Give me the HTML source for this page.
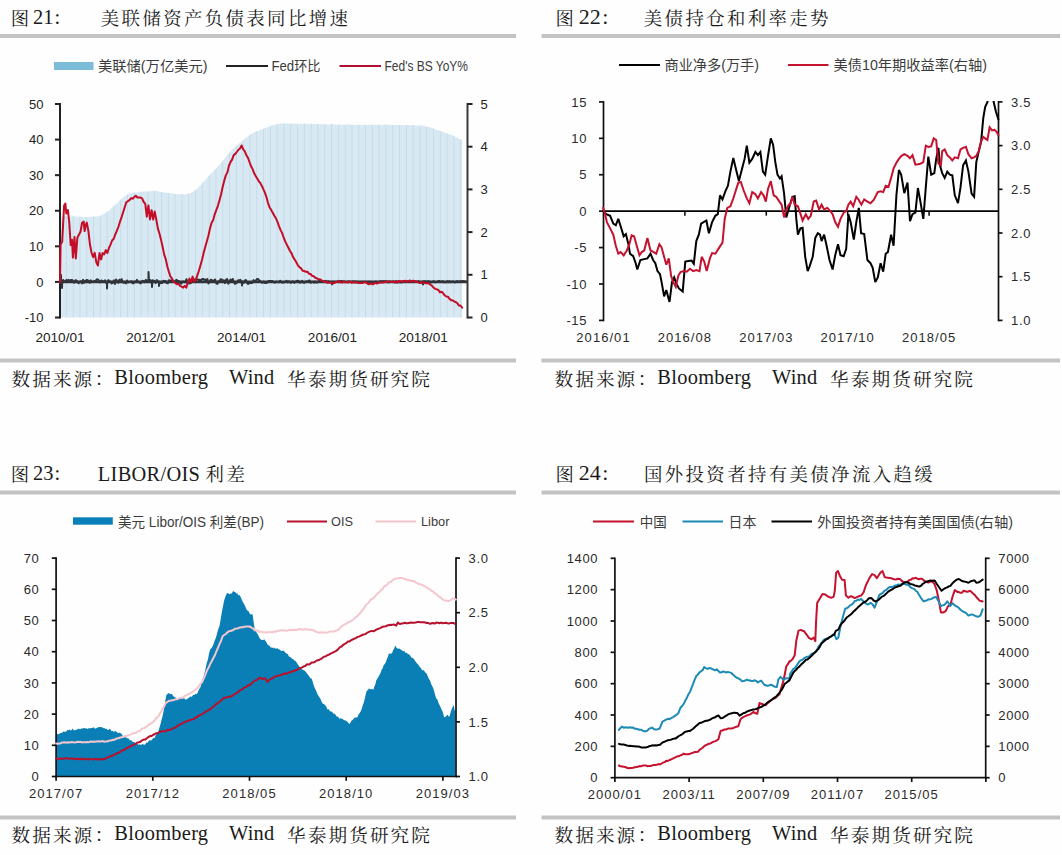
<!DOCTYPE html>
<html lang="zh-CN"><head><meta charset="utf-8"><title>图21-24</title>
<style>
html,body{margin:0;padding:0;background:#fefefe;}
body{width:1062px;height:855px;overflow:hidden;}
svg{display:block;}
.kai{font-family:"Noto Serif CJK SC","Liberation Serif",serif;font-size:18.4px;letter-spacing:2.4px;fill:#1a1a1a;font-weight:400;}
.kais{font-family:"Noto Serif CJK SC","Liberation Serif",serif;font-size:18.6px;letter-spacing:2.1px;fill:#1a1a1a;font-weight:400;}
.lat{font-family:"Liberation Serif","Noto Serif CJK SC",serif;font-size:20.4px;fill:#1a1a1a;letter-spacing:0.3px;}
.lg{font-family:"Liberation Sans","Noto Sans CJK SC",sans-serif;font-size:14px;fill:#3c3c3c;}
.tk{font-family:"Liberation Sans","Noto Sans CJK SC",sans-serif;font-size:13px;fill:#222;}
.tx{font-family:"Liberation Sans","Noto Sans CJK SC",sans-serif;font-size:13.6px;fill:#222;}
.tf{font-family:"Liberation Sans","Noto Sans CJK SC",sans-serif;font-size:13px;fill:#2a2a2a;letter-spacing:0.6px;}
.tfx{font-family:"Liberation Sans","Noto Sans CJK SC",sans-serif;font-size:13px;fill:#2a2a2a;letter-spacing:1.05px;}
.ax2{stroke:#111;stroke-width:1.7;fill:none;}
.ax{stroke:#222;stroke-width:2;fill:none;}
.ln{fill:none;stroke-width:2;stroke-linejoin:round;stroke-linecap:round;}
</style></head><body>
<svg width="1062" height="855" viewBox="0 0 1062 855">
<rect width="1062" height="855" fill="#fefefe"/>
<rect x="0" y="34" width="516" height="4" fill="#c3c3c3"/>
<rect x="541.5" y="34" width="518.5" height="4" fill="#c3c3c3"/>
<rect x="0" y="358.5" width="516" height="4" fill="#c3c3c3"/>
<rect x="541.5" y="358.5" width="518.5" height="4" fill="#c3c3c3"/>
<rect x="0" y="490.5" width="516" height="4" fill="#c3c3c3"/>
<rect x="541.5" y="490.5" width="518.5" height="4" fill="#c3c3c3"/>
<rect x="0" y="815.5" width="516" height="4" fill="#c3c3c3"/>
<rect x="541.5" y="815.5" width="518.5" height="4" fill="#c3c3c3"/>
<text y="25"><tspan x="10.7" class="kai">图</tspan><tspan x="27.9" dy="-1" class="lat" style="letter-spacing:0"> 21</tspan><tspan x="54.4" class="lat">:</tspan><tspan x="93.7" dy="1" class="kai"> 美联储资产负债表同比增速</tspan></text>
<text y="25"><tspan x="555.4" class="kai">图</tspan><tspan x="573.2" dy="-1" class="lat" style="font-size:22px;letter-spacing:0"> 22</tspan><tspan x="602.2" class="lat" style="font-size:22px">:</tspan><tspan x="636.7" dy="1" class="kai"> 美债持仓和利率走势</tspan></text>
<text y="481"><tspan x="10.7" class="kai">图</tspan><tspan x="27.9" dy="-1" class="lat" style="letter-spacing:0"> 23</tspan><tspan x="54.4" class="lat">:</tspan><tspan x="92.4" dy="1" class="lat"> LIBOR/OIS</tspan><tspan x="198.5" class="kai"> 利差</tspan></text>
<text y="481"><tspan x="555.4" class="kai">图</tspan><tspan x="573.2" dy="-1" class="lat" style="font-size:22px;letter-spacing:0"> 24</tspan><tspan x="602.2" class="lat" style="font-size:22px">:</tspan><tspan x="636.9" dy="1" class="kai"> 国外投资者持有美债净流入趋缓</tspan></text>
<text y="385.5"><tspan x="11.5" class="kais">数据来源</tspan><tspan x="96" dy="-0.5" class="kais">:</tspan><tspan x="108.9" dy="-1.1" class="lat"> Bloomberg</tspan><tspan x="223.9" class="lat"> Wind</tspan><tspan x="280.25" dy="1.6" class="kais"> 华泰期货研究院</tspan></text>
<text y="385.5"><tspan x="554.5" class="kais">数据来源</tspan><tspan x="639" dy="-0.5" class="kais">:</tspan><tspan x="651.9" dy="-1.1" class="lat"> Bloomberg</tspan><tspan x="766.9" class="lat"> Wind</tspan><tspan x="823.25" dy="1.6" class="kais"> 华泰期货研究院</tspan></text>
<text y="841.5"><tspan x="11.5" class="kais">数据来源</tspan><tspan x="96" dy="-0.5" class="kais">:</tspan><tspan x="108.9" dy="-1.1" class="lat"> Bloomberg</tspan><tspan x="223.9" class="lat"> Wind</tspan><tspan x="280.25" dy="1.6" class="kais"> 华泰期货研究院</tspan></text>
<text y="841.5"><tspan x="554.5" class="kais">数据来源</tspan><tspan x="639" dy="-0.5" class="kais">:</tspan><tspan x="651.9" dy="-1.1" class="lat"> Bloomberg</tspan><tspan x="766.9" class="lat"> Wind</tspan><tspan x="823.25" dy="1.6" class="kais"> 华泰期货研究院</tspan></text>
<g id="c1">
<defs><pattern id="bars" x="60" y="0" width="6.8" height="10" patternUnits="userSpaceOnUse"><rect width="6.8" height="10" fill="#d8e9f3"/><rect x="5.9" width="0.9" height="10" fill="#c4dbe9"/></pattern></defs>
<path d="M60.9 216.3 L63.3 216.4 L65.6 216.3 L68.0 216.5 L70.3 216.5 L72.6 216.2 L74.7 216.2 L76.8 216.8 L78.9 216.6 L81.1 216.7 L83.2 217.2 L85.3 217.0 L87.4 217.1 L89.5 216.8 L91.6 216.8 L93.7 216.4 L95.8 216.6 L97.9 216.4 L100.0 215.7 L102.1 215.0 L104.2 214.0 L106.3 212.3 L108.4 211.2 L110.5 209.3 L112.6 207.2 L114.7 205.0 L116.8 203.4 L118.9 201.0 L121.1 199.1 L123.2 197.4 L125.3 195.8 L127.4 194.6 L129.5 193.4 L131.8 193.1 L134.2 192.5 L136.6 192.6 L138.9 192.3 L141.3 191.6 L143.7 191.4 L146.1 191.2 L148.4 191.4 L150.5 190.9 L152.6 190.9 L154.7 190.7 L156.8 191.1 L158.9 191.5 L161.1 191.9 L163.4 192.4 L165.8 192.6 L168.2 193.1 L170.5 193.2 L172.9 193.6 L175.3 193.9 L177.6 194.3 L180.0 194.3 L182.1 194.1 L184.2 194.5 L186.3 194.3 L188.4 193.8 L190.5 192.8 L192.6 191.9 L194.7 190.3 L196.8 189.1 L198.9 187.0 L201.1 184.5 L203.2 181.9 L205.3 179.9 L207.4 177.7 L209.5 175.0 L211.6 173.3 L213.7 171.0 L215.8 168.7 L217.9 166.5 L220.0 164.3 L222.1 161.8 L224.2 158.7 L226.3 156.4 L228.4 153.4 L230.5 151.4 L232.6 148.9 L234.7 147.1 L236.8 145.2 L238.9 143.2 L241.1 141.9 L243.2 139.9 L245.3 138.2 L247.4 136.9 L249.5 135.1 L251.6 133.8 L253.7 132.7 L255.8 131.6 L259.6 130.4 L260.0 129.8 L262.1 129.6 L264.2 128.3 L266.3 127.8 L268.4 126.9 L270.5 125.8 L272.6 125.2 L274.7 124.7 L276.8 124.2 L278.9 123.8 L281.1 123.5 L283.2 123.5 L285.3 123.6 L287.4 123.4 L289.5 123.4 L291.6 123.7 L293.7 123.5 L295.8 123.5 L297.9 124.0 L300.0 123.8 L302.1 123.8 L304.2 123.5 L306.3 123.8 L308.4 124.0 L310.5 123.7 L312.6 124.1 L314.7 124.1 L316.8 123.8 L318.9 124.2 L321.1 124.1 L323.2 124.3 L325.3 124.2 L327.4 124.4 L329.5 124.5 L331.6 124.1 L333.7 124.2 L335.8 124.6 L337.9 124.8 L340.0 124.4 L342.1 124.6 L344.2 124.7 L346.3 124.6 L348.4 124.6 L350.5 124.6 L352.6 124.7 L354.7 124.9 L356.8 124.7 L358.9 124.8 L361.1 125.0 L363.2 124.6 L365.3 124.9 L367.4 125.0 L369.5 124.7 L371.6 124.7 L373.7 125.0 L375.8 124.7 L377.9 124.7 L380.0 124.8 L382.1 125.0 L384.2 124.6 L386.3 124.7 L388.4 124.8 L390.5 125.1 L392.6 124.9 L394.7 125.2 L396.8 124.8 L398.9 124.9 L401.1 125.1 L403.2 125.3 L405.3 125.0 L407.4 124.9 L409.5 124.9 L411.6 125.2 L413.7 125.1 L415.8 125.6 L417.9 125.7 L420.0 125.4 L422.1 125.6 L424.2 126.1 L426.3 126.4 L428.4 127.0 L430.5 127.4 L432.6 128.0 L434.7 128.9 L436.8 130.0 L438.9 130.5 L441.1 131.3 L443.2 132.1 L445.3 132.8 L447.4 133.5 L449.5 134.6 L451.6 135.0 L453.7 135.7 L455.8 137.2 L457.9 138.1 L460.0 139.2 L462.1 140.0 L462.1 317.5 L60.9 317.5 Z" fill="url(#bars)"/>
<rect x="54" y="62" width="39.5" height="8" fill="#7bbcd8"/>
<text x="98" y="71" class="lg" textLength="109.5" lengthAdjust="spacingAndGlyphs">美联储(万亿美元)</text>
<line x1="226" y1="66" x2="268" y2="66" stroke="#222" stroke-width="2"/>
<text x="271.5" y="71" class="lg" textLength="49" lengthAdjust="spacingAndGlyphs">Fed环比</text>
<line x1="339.5" y1="66" x2="381" y2="66" stroke="#b01030" stroke-width="2.1"/>
<text x="384.5" y="70.8" class="lg" style="font-size:14px" textLength="83.5" lengthAdjust="spacingAndGlyphs">Fed's BS YoY%</text>
<line x1="60" y1="103" x2="60" y2="318.5" class="ax"/>
<line x1="55" y1="104" x2="60" y2="104" class="ax"/>
<text x="43.5" y="108.6" class="tk" text-anchor="end">50</text>
<line x1="55" y1="139.583" x2="60" y2="139.583" class="ax"/>
<text x="43.5" y="144.183" class="tk" text-anchor="end">40</text>
<line x1="55" y1="175.167" x2="60" y2="175.167" class="ax"/>
<text x="43.5" y="179.767" class="tk" text-anchor="end">30</text>
<line x1="55" y1="210.75" x2="60" y2="210.75" class="ax"/>
<text x="43.5" y="215.35" class="tk" text-anchor="end">20</text>
<line x1="55" y1="246.333" x2="60" y2="246.333" class="ax"/>
<text x="43.5" y="250.933" class="tk" text-anchor="end">10</text>
<line x1="55" y1="281.917" x2="60" y2="281.917" class="ax"/>
<text x="43.5" y="286.517" class="tk" text-anchor="end">0</text>
<line x1="55" y1="317.5" x2="60" y2="317.5" class="ax"/>
<text x="43.5" y="322.1" class="tk" text-anchor="end">-10</text>
<line x1="467.5" y1="103" x2="467.5" y2="318.5" class="ax" style="stroke:#3a3a3a"/>
<line x1="467.5" y1="104" x2="472.5" y2="104" class="ax"/>
<text x="480.5" y="108.6" class="tk">5</text>
<line x1="467.5" y1="146.7" x2="472.5" y2="146.7" class="ax"/>
<text x="480.5" y="151.3" class="tk">4</text>
<line x1="467.5" y1="189.4" x2="472.5" y2="189.4" class="ax"/>
<text x="480.5" y="194" class="tk">3</text>
<line x1="467.5" y1="232.1" x2="472.5" y2="232.1" class="ax"/>
<text x="480.5" y="236.7" class="tk">2</text>
<line x1="467.5" y1="274.8" x2="472.5" y2="274.8" class="ax"/>
<text x="480.5" y="279.4" class="tk">1</text>
<line x1="467.5" y1="317.5" x2="472.5" y2="317.5" class="ax"/>
<text x="480.5" y="322.1" class="tk">0</text>
<text x="60" y="341.5" class="tx" text-anchor="middle">2010/01</text>
<text x="150.8" y="341.5" class="tx" text-anchor="middle">2012/01</text>
<text x="241.6" y="341.5" class="tx" text-anchor="middle">2014/01</text>
<text x="332.4" y="341.5" class="tx" text-anchor="middle">2016/01</text>
<text x="423.2" y="341.5" class="tx" text-anchor="middle">2018/01</text>
<path d="M60.0 280.9 L61.0 281.9 L61.0 274.9 L61.1 280.3 L61.5 281.9 L62.0 281.9 L62.0 287.9 L62.2 282.1 L62.5 281.9 L63.3 280.0 L64.4 281.7 L65.5 281.1 L66.6 279.9 L67.7 281.6 L68.8 279.8 L69.9 281.3 L71.0 280.0 L72.1 280.0 L73.2 281.3 L74.3 282.8 L75.4 280.2 L76.5 280.5 L77.6 282.0 L78.7 283.2 L79.8 281.9 L80.9 281.2 L82.0 283.4 L83.1 279.9 L84.2 282.9 L85.3 280.8 L86.4 280.2 L87.5 280.1 L88.6 280.9 L89.7 282.8 L90.8 280.4 L91.9 281.9 L93.0 282.1 L94.1 281.1 L95.2 281.7 L96.3 279.9 L97.4 279.2 L98.5 280.0 L99.6 282.4 L100.7 281.1 L101.8 280.5 L102.9 281.9 L104.0 281.2 L105.1 280.4 L106.2 283.0 L107.0 281.9 L107.0 288.4 L107.3 282.5 L107.5 281.9 L108.4 280.1 L109.5 281.8 L110.6 281.6 L111.7 283.4 L112.8 282.6 L113.9 280.4 L115.0 283.9 L116.1 279.5 L117.2 281.0 L118.3 282.8 L119.4 279.7 L120.5 281.4 L121.6 279.1 L122.7 282.3 L123.8 282.8 L124.9 281.8 L126.0 283.4 L127.1 280.5 L128.2 282.4 L129.3 281.9 L130.4 281.9 L131.5 281.2 L132.6 283.2 L133.7 283.2 L134.8 281.5 L135.9 282.2 L137.0 279.9 L138.1 282.3 L139.2 282.1 L140.3 283.4 L141.4 282.8 L142.5 280.8 L143.6 281.1 L144.7 282.2 L145.8 279.8 L146.9 281.4 L148.0 280.3 L148.5 281.9 L148.5 271.9 L149.0 281.9 L149.1 280.1 L150.2 279.9 L151.3 282.6 L152.0 281.9 L152.0 286.9 L152.4 280.2 L152.5 281.9 L153.5 280.6 L154.6 281.2 L155.7 283.0 L156.8 280.0 L157.9 281.4 L159.0 281.8 L159.0 281.9 L159.0 285.9 L159.5 281.9 L160.1 283.0 L161.2 282.8 L162.3 282.9 L163.4 280.7 L164.5 281.3 L165.6 281.0 L166.7 283.0 L167.8 283.3 L168.9 280.3 L170.0 280.4 L171.1 280.6 L172.2 280.6 L173.3 281.5 L174.4 281.9 L175.5 280.7 L176.6 279.7 L177.7 281.3 L178.8 281.1 L179.9 281.8 L181.0 283.8 L182.1 282.4 L183.2 281.5 L184.3 282.0 L185.4 282.3 L186.5 279.2 L187.6 283.5 L188.7 282.9 L189.8 283.4 L190.9 283.0 L192.0 280.9 L193.1 280.9 L194.2 279.4 L195.3 282.1 L196.4 279.2 L197.5 279.2 L198.6 280.0 L199.7 279.7 L200.8 280.6 L201.9 279.2 L203.0 278.9 L204.1 279.7 L205.2 279.4 L206.3 280.8 L207.4 279.0 L208.5 283.4 L209.6 282.0 L210.7 279.7 L211.8 280.2 L212.9 280.7 L214.0 280.8 L215.1 279.5 L216.2 283.2 L217.3 284.0 L218.4 281.3 L219.5 281.4 L220.6 279.3 L221.7 279.4 L222.8 280.6 L223.9 280.3 L225.0 283.1 L226.1 279.7 L227.2 279.0 L228.3 283.8 L229.4 281.6 L230.5 279.6 L231.6 281.7 L232.7 279.0 L233.8 281.6 L234.9 283.9 L236.0 283.3 L237.1 282.5 L238.2 280.2 L239.3 280.8 L240.4 279.8 L241.5 282.8 L242.0 281.9 L242.0 285.4 L242.5 281.9 L242.6 281.6 L243.7 282.9 L244.8 280.6 L245.9 280.0 L247.0 283.0 L248.1 283.9 L249.2 283.2 L250.3 283.0 L251.4 283.1 L252.5 282.7 L253.6 280.1 L254.7 281.5 L255.8 280.7 L256.9 279.0 L258.0 279.0 L259.1 280.3 L260.2 281.1 L261.3 282.1 L262.4 282.8 L263.5 281.6 L264.6 282.7 L265.7 282.9 L266.8 282.8 L267.9 281.4 L269.0 281.0 L270.1 281.0 L271.2 281.0 L272.3 281.0 L273.4 282.0 L274.5 282.6 L275.6 282.5 L276.7 281.6 L277.8 282.1 L278.9 282.4 L280.0 280.7 L281.1 282.1 L282.2 282.7 L283.3 282.4 L284.4 282.3 L285.5 281.6 L286.6 280.9 L287.7 282.4 L288.8 281.3 L289.9 282.4 L291.0 282.8 L292.1 281.4 L293.2 281.5 L294.3 282.8 L295.4 282.2 L296.5 280.9 L297.6 280.8 L298.7 280.9 L299.8 282.7 L300.9 282.4 L302.0 280.8 L303.1 282.5 L304.2 282.8 L305.3 282.1 L306.4 281.3 L307.5 281.8 L308.6 280.8 L309.7 280.5 L310.8 282.8 L311.9 282.0 L313.0 281.8 L314.1 282.7 L315.2 281.5 L316.3 282.6 L317.4 282.5 L318.5 281.0 L319.6 281.1 L320.7 281.2 L321.8 281.1 L322.9 281.9 L324.0 281.1 L325.1 281.5 L326.2 280.8 L327.3 282.7 L328.4 281.3 L329.5 281.6 L330.6 281.9 L331.7 282.4 L332.0 281.9 L332.0 284.4 L332.5 281.9 L332.8 281.6 L333.9 282.4 L335.0 281.8 L336.1 281.8 L337.2 281.8 L338.3 281.0 L339.4 281.7 L340.5 281.3 L341.6 281.0 L342.7 282.2 L343.8 281.3 L344.9 281.7 L346.0 282.1 L347.1 281.9 L348.2 281.5 L349.3 281.8 L350.4 281.8 L351.5 282.2 L352.6 281.2 L353.7 281.9 L354.8 281.4 L355.9 281.4 L357.0 282.2 L358.1 281.8 L359.2 281.9 L360.3 282.2 L361.4 282.4 L362.5 281.7 L363.6 281.9 L364.7 281.8 L365.8 281.8 L366.9 282.1 L368.0 281.7 L369.1 281.8 L370.2 281.7 L371.3 282.4 L372.4 282.1 L373.5 282.3 L374.6 282.4 L375.7 281.4 L376.8 281.9 L377.9 282.4 L379.0 282.3 L380.1 281.2 L381.2 281.2 L382.3 281.7 L383.4 281.1 L384.5 281.4 L385.6 281.1 L386.7 282.0 L387.8 282.2 L388.9 282.4 L390.0 281.2 L391.1 282.1 L392.2 282.0 L393.3 281.2 L394.4 282.4 L395.5 282.5 L396.6 281.3 L397.7 282.5 L398.8 281.6 L399.9 281.7 L401.0 282.5 L402.1 282.3 L403.2 281.2 L404.3 281.7 L405.4 281.8 L406.5 281.5 L407.6 281.3 L408.7 281.5 L409.8 282.1 L410.9 281.0 L412.0 281.8 L413.1 281.7 L414.2 281.0 L415.3 281.5 L416.4 282.0 L417.5 281.8 L418.6 281.1 L419.7 282.5 L420.8 282.2 L421.9 282.5 L423.0 281.9 L423.0 284.4 L423.0 281.2 L423.5 281.9 L424.1 281.4 L425.2 281.1 L426.3 282.2 L427.4 281.4 L428.5 281.2 L429.6 281.6 L430.7 282.4 L431.8 282.3 L432.9 281.4 L434.0 281.2 L435.1 282.4 L436.2 281.9 L437.3 282.1 L438.4 281.1 L439.5 281.1 L440.6 282.1 L441.7 281.7 L442.8 281.1 L443.9 282.4 L445.0 282.0 L446.1 282.2 L447.2 281.1 L448.3 282.3 L449.4 281.1 L450.5 282.3 L451.6 281.7 L452.7 281.5 L453.8 281.8 L454.9 282.4 L456.0 281.4 L457.1 281.2 L458.2 281.8 L459.3 281.4 L460.4 281.2 L461.5 281.2 L462.6 281.1 L463.7 281.3 L464.8 281.5 L465.9 281.5" class="ln" stroke="#30343a" stroke-width="2.4"/>
<line x1="60" y1="281.9" x2="467" y2="281.9" stroke="#30343a" stroke-width="2.6"/>
<path d="M60.0 282.4 L60.6 244.7 L62.2 241.6 L64.1 205.6 L65.4 203.6 L66.3 213.5 L67.9 210.1 L69.2 222.0 L70.7 245.1 L72.0 239.8 L72.9 257.6 L74.5 237.1 L75.8 258.4 L77.4 237.4 L78.9 234.8 L80.5 231.7 L82.1 222.7 L83.7 221.5 L84.6 231.1 L85.9 224.5 L86.8 222.6 L88.4 230.9 L90.0 244.8 L91.6 253.0 L93.2 257.1 L94.7 252.9 L96.3 262.2 L97.9 265.5 L99.5 253.1 L101.1 259.4 L102.6 253.1 L104.2 254.4 L105.8 250.1 L107.4 253.0 L108.9 248.2 L110.5 244.6 L112.1 240.5 L113.7 238.8 L115.3 234.3 L116.8 230.9 L118.4 226.8 L120.0 221.7 L121.6 217.1 L123.2 212.0 L124.7 207.2 L126.3 202.3 L127.9 201.2 L129.5 200.2 L131.1 198.2 L132.6 198.8 L134.2 197.0 L135.8 195.8 L137.4 197.5 L138.9 197.4 L140.5 197.6 L142.1 198.4 L143.7 202.0 L145.3 203.9 L146.8 216.7 L148.4 205.4 L150.0 219.4 L151.6 210.2 L153.2 219.6 L154.7 211.6 L156.3 219.5 L157.9 228.6 L159.5 233.8 L161.1 240.1 L162.6 246.7 L164.2 254.6 L165.8 259.4 L167.4 266.8 L168.9 271.9 L170.5 276.7 L172.1 278.6 L173.7 281.8 L175.3 282.9 L176.8 284.2 L178.4 283.7 L180.0 285.8 L181.6 286.6 L183.2 287.6 L184.7 285.9 L186.3 287.7 L187.9 282.1 L189.5 278.6 L191.1 282.3 L192.6 276.6 L194.2 281.8 L195.8 279.8 L197.4 275.1 L198.9 270.7 L200.5 265.2 L202.1 259.4 L203.7 252.8 L205.3 246.7 L206.8 241.4 L208.4 235.7 L210.0 228.5 L211.6 222.8 L213.2 219.9 L214.7 214.3 L216.3 210.1 L217.9 205.8 L219.5 200.2 L221.1 194.3 L222.6 187.3 L224.2 180.9 L225.8 175.4 L227.4 172.4 L228.9 165.9 L230.5 162.1 L232.1 159.6 L233.7 155.1 L235.3 153.9 L236.8 152.0 L238.4 149.7 L240.0 148.5 L241.6 145.5 L243.2 149.3 L244.7 151.1 L246.3 154.9 L247.9 157.7 L249.5 162.0 L251.1 166.3 L252.6 169.1 L254.2 173.3 L255.8 176.2 L257.4 178.7 L258.9 181.5 L260.0 182.6 L261.6 185.4 L263.2 188.8 L264.7 192.2 L266.3 196.6 L267.9 202.6 L269.5 207.2 L271.1 209.7 L272.6 212.6 L274.2 215.5 L275.8 218.1 L277.4 221.6 L278.9 225.8 L280.5 229.9 L282.1 232.9 L283.7 237.7 L285.3 241.6 L286.8 244.6 L288.4 247.7 L290.0 251.0 L291.6 253.4 L293.2 257.3 L294.7 259.6 L296.3 262.3 L297.9 265.3 L299.5 267.2 L301.1 268.4 L302.6 270.7 L304.2 271.0 L305.8 271.8 L307.4 271.7 L308.9 273.7 L310.5 274.0 L312.1 275.8 L313.7 276.3 L315.3 277.8 L316.8 278.3 L318.4 279.4 L320.0 279.3 L321.6 280.4 L323.2 281.2 L324.7 281.9 L326.3 281.5 L327.9 282.6 L329.5 282.8 L331.1 282.6 L332.6 283.4 L334.2 283.1 L335.8 282.0 L337.4 281.8 L338.9 280.8 L340.5 282.2 L342.1 282.5 L343.7 281.7 L345.3 282.2 L346.8 282.3 L348.4 282.4 L350.0 281.4 L351.6 282.7 L353.2 282.3 L354.7 282.6 L356.3 282.2 L357.9 282.7 L359.5 283.0 L361.1 282.9 L362.6 283.1 L364.2 281.8 L365.8 282.5 L367.4 283.5 L368.9 284.3 L370.5 283.3 L372.1 284.2 L373.7 283.9 L375.3 282.7 L376.8 283.5 L378.4 282.9 L380.0 282.5 L381.6 282.4 L383.2 282.5 L384.7 282.0 L386.3 281.8 L387.9 281.3 L389.5 282.0 L391.1 281.7 L392.6 282.0 L394.2 282.0 L395.8 281.3 L397.4 282.6 L398.9 280.8 L400.5 281.5 L402.1 281.2 L403.7 281.4 L405.3 280.7 L406.8 282.1 L408.4 281.2 L410.0 280.5 L411.6 281.7 L413.2 280.7 L414.7 281.7 L416.3 281.4 L417.9 282.0 L419.5 282.9 L421.1 282.7 L422.6 282.1 L424.2 283.0 L425.8 283.3 L427.4 283.3 L428.9 283.4 L430.5 284.8 L432.1 285.9 L433.7 287.8 L435.3 288.9 L436.8 289.3 L438.4 290.0 L440.0 292.4 L441.6 291.8 L443.2 293.3 L444.7 295.3 L446.3 296.5 L447.9 296.7 L449.5 298.8 L451.1 300.3 L452.6 300.3 L454.2 301.5 L455.8 302.1 L457.4 303.2 L458.9 305.6 L460.5 305.5 L462.1 307.7" class="ln" stroke="#c40e28" stroke-width="2.7"/>
</g>
<g id="c2">
<line x1="619" y1="65" x2="660" y2="65" stroke="#000" stroke-width="2.1"/>
<text x="664.5" y="70" class="lg" textLength="94.5" lengthAdjust="spacingAndGlyphs">商业净多(万手)</text>
<line x1="788" y1="65" x2="828.5" y2="65" stroke="#c4122f" stroke-width="2.1"/>
<text x="833.5" y="70" class="lg" textLength="153.5" lengthAdjust="spacingAndGlyphs">美债10年期收益率(右轴)</text>
<line x1="603.5" y1="101.05" x2="603.5" y2="321.25" class="ax2"/>
<line x1="599" y1="101.9" x2="603.5" y2="101.9" class="ax2"/>
<text x="587" y="106.5" class="tf" text-anchor="end">15</text>
<line x1="599" y1="138.317" x2="603.5" y2="138.317" class="ax2"/>
<text x="587" y="142.917" class="tf" text-anchor="end">10</text>
<line x1="599" y1="174.733" x2="603.5" y2="174.733" class="ax2"/>
<text x="587" y="179.333" class="tf" text-anchor="end">5</text>
<line x1="599" y1="211.15" x2="603.5" y2="211.15" class="ax2"/>
<text x="587" y="215.75" class="tf" text-anchor="end">0</text>
<line x1="599" y1="247.567" x2="603.5" y2="247.567" class="ax2"/>
<text x="587" y="252.167" class="tf" text-anchor="end">-5</text>
<line x1="599" y1="283.983" x2="603.5" y2="283.983" class="ax2"/>
<text x="587" y="288.583" class="tf" text-anchor="end">-10</text>
<line x1="599" y1="320.4" x2="603.5" y2="320.4" class="ax2"/>
<text x="587" y="325" class="tf" text-anchor="end">-15</text>
<line x1="998.5" y1="101.05" x2="998.5" y2="321.25" class="ax2"/>
<line x1="998.5" y1="101.9" x2="1002.5" y2="101.9" class="ax2"/>
<text x="1011.1" y="106.5" class="tf">3.5</text>
<line x1="998.5" y1="145.6" x2="1002.5" y2="145.6" class="ax2"/>
<text x="1011.1" y="150.2" class="tf">3.0</text>
<line x1="998.5" y1="189.3" x2="1002.5" y2="189.3" class="ax2"/>
<text x="1011.1" y="193.9" class="tf">2.5</text>
<line x1="998.5" y1="233" x2="1002.5" y2="233" class="ax2"/>
<text x="1011.1" y="237.6" class="tf">2.0</text>
<line x1="998.5" y1="276.7" x2="1002.5" y2="276.7" class="ax2"/>
<text x="1011.1" y="281.3" class="tf">1.5</text>
<line x1="998.5" y1="320.4" x2="1002.5" y2="320.4" class="ax2"/>
<text x="1011.1" y="325" class="tf">1.0</text>
<line x1="603.5" y1="211.15" x2="998.5" y2="211.15" stroke="#000" stroke-width="1.8"/>
<line x1="684.9" y1="211.15" x2="684.9" y2="215.65" stroke="#000" stroke-width="1.5"/>
<line x1="766.3" y1="211.15" x2="766.3" y2="215.65" stroke="#000" stroke-width="1.5"/>
<line x1="847.7" y1="211.15" x2="847.7" y2="215.65" stroke="#000" stroke-width="1.5"/>
<line x1="929.1" y1="211.15" x2="929.1" y2="215.65" stroke="#000" stroke-width="1.5"/>
<text x="603.5" y="342" class="tfx" text-anchor="middle">2016/01</text>
<text x="684.9" y="342" class="tfx" text-anchor="middle">2016/08</text>
<text x="766.3" y="342" class="tfx" text-anchor="middle">2017/03</text>
<text x="847.7" y="342" class="tfx" text-anchor="middle">2017/10</text>
<text x="929.1" y="342" class="tfx" text-anchor="middle">2018/05</text>
<clipPath id="cp2"><rect x="600" y="101" width="400" height="222"/></clipPath>
<g clip-path="url(#cp2)">
<path d="M603.2 211.1 L606.3 214.2 L610.1 215.8 L613.3 223.7 L615.8 225.3 L618.3 218.9 L620.8 226.8 L623.7 236.3 L625.9 234.1 L628.4 244.2 L630.0 253.7 L633.2 256.2 L635.7 263.2 L637.3 269.5 L640.4 260.0 L644.2 259.1 L647.4 258.4 L650.5 253.7 L653.1 260.0 L655.3 263.2 L657.5 271.1 L660.0 274.2 L661.6 282.1 L664.1 296.3 L666.3 290.0 L669.5 302.0 L672.0 282.1 L674.2 277.4 L676.4 283.7 L678.9 288.4 L682.7 291.6 L685.3 261.6 L688.4 260.9 L691.6 260.6 L693.8 263.8 L696.3 241.1 L698.8 234.7 L701.1 223.7 L703.6 222.1 L706.4 220.5 L708.9 233.2 L712.1 222.1 L715.3 215.8 L717.8 214.2 L720.0 195.3 L722.5 199.4 L725.7 190.5 L727.9 185.8 L730.4 171.6 L733.3 158.0 L735.8 168.4 L738.9 181.1 L742.1 168.4 L744.6 158.9 L746.8 145.7 L749.4 162.7 L752.2 158.9 L755.4 152.0 L757.9 155.2 L760.4 152.0 L762.9 171.6 L765.2 174.7 L768.0 155.8 L770.8 138.4 L773.1 144.7 L775.3 162.1 L777.5 174.7 L780.0 178.5 L781.6 176.3 L784.1 193.7 L786.3 217.4 L789.5 206.3 L792.5 196.8 L794.7 196.2 L796.3 218.9 L797.9 234.7 L800.4 228.4 L802.6 227.8 L805.2 256.8 L807.7 271.1 L809.6 266.3 L812.7 256.8 L815.3 237.9 L817.8 233.2 L820.0 234.7 L821.6 241.1 L824.1 234.7 L826.3 244.2 L829.5 260.0 L832.6 269.5 L835.2 255.3 L838.0 244.2 L840.5 255.3 L843.7 256.2 L846.2 248.9 L848.4 214.2 L850.6 222.1 L853.8 239.5 L856.3 222.1 L858.8 207.9 L861.1 233.2 L864.2 234.1 L867.4 260.0 L870.5 263.2 L872.7 267.9 L875.3 282.1 L877.8 277.4 L880.6 263.2 L883.2 271.7 L885.7 253.7 L887.9 252.1 L891.1 234.7 L893.6 245.8 L896.4 195.3 L898.9 170.0 L901.2 174.7 L904.3 193.1 L907.5 182.6 L910.0 221.2 L912.5 214.2 L915.4 212.6 L917.9 188.0 L920.4 201.6 L923.3 218.9 L925.8 187.4 L928.3 156.7 L931.2 174.7 L934.3 173.2 L936.2 158.9 L938.4 147.9 L940.0 165.3 L942.2 173.2 L944.7 177.9 L947.3 171.6 L949.8 174.7 L952.3 175.4 L954.8 195.3 L958.0 203.2 L960.5 187.4 L963.1 165.3 L965.9 160.5 L968.4 171.6 L971.6 193.7 L974.1 196.8 L976.3 162.1 L978.8 151.1 L981.1 141.6 L983.3 117.9 L985.2 106.8 L987.4 102.1 L989.6 89.5 L992.1 89.5 L993.7 102.1 L995.9 111.6 L998.4 119.5" class="ln" stroke="#000" stroke-width="2.8" style="stroke-linejoin:miter;stroke-miterlimit:3"/>
<path d="M603.2 207.9 L604.7 212.6 L606.9 222.1 L610.1 228.4 L613.3 234.7 L615.8 245.8 L618.3 253.7 L620.5 252.1 L623.7 255.3 L626.8 250.5 L629.4 244.2 L631.6 235.4 L634.1 236.3 L636.3 244.2 L639.5 255.3 L641.7 252.1 L644.2 250.5 L647.4 237.9 L650.5 250.5 L653.7 252.1 L656.2 253.7 L659.4 244.2 L661.6 247.4 L664.1 256.8 L666.3 264.7 L668.8 258.4 L671.1 275.8 L673.3 282.1 L675.8 286.8 L678.3 275.8 L680.5 272.0 L683.7 271.1 L686.8 271.7 L690.0 268.8 L693.2 271.1 L696.3 270.1 L699.5 271.1 L701.7 256.8 L704.2 261.6 L706.7 271.1 L709.9 258.4 L712.1 253.1 L715.3 253.7 L718.4 248.9 L722.5 242.6 L724.7 218.9 L727.3 207.9 L730.4 206.3 L733.3 198.4 L735.8 190.5 L738.3 182.6 L740.8 182.0 L743.7 190.5 L746.8 198.4 L749.4 203.2 L752.2 192.1 L755.4 194.3 L757.9 198.4 L761.1 192.1 L763.6 195.3 L765.8 201.6 L768.0 188.9 L770.8 181.1 L773.7 195.3 L776.2 196.8 L779.4 201.6 L781.6 204.7 L784.1 217.4 L786.3 209.5 L788.8 204.7 L790.0 204.7 L792.5 196.8 L794.7 204.7 L797.9 206.3 L800.1 212.6 L802.6 220.5 L805.8 214.2 L808.3 218.9 L810.8 215.8 L813.7 201.6 L816.2 200.6 L819.1 209.5 L821.6 204.7 L824.1 209.5 L827.3 207.9 L830.4 211.1 L832.6 214.2 L835.2 222.1 L838.0 226.8 L840.5 218.9 L843.7 212.6 L846.2 211.1 L848.4 204.7 L850.6 201.6 L853.2 206.3 L856.3 196.8 L858.8 200.0 L861.4 204.7 L864.2 199.4 L867.4 201.6 L870.5 203.2 L873.7 200.0 L877.8 192.1 L880.6 191.2 L883.2 192.1 L885.7 185.8 L888.5 186.7 L891.1 177.9 L893.6 168.4 L896.4 162.7 L898.9 158.9 L901.5 155.8 L904.3 154.2 L907.5 155.8 L910.0 158.3 L912.5 155.2 L915.4 164.6 L917.9 164.3 L920.4 163.7 L923.3 162.1 L925.8 145.7 L928.3 146.9 L931.2 146.3 L933.7 138.4 L936.2 140.0 L938.4 163.7 L940.9 165.3 L942.2 151.1 L944.7 149.5 L947.3 155.2 L949.8 157.4 L952.3 160.5 L954.8 157.4 L958.0 158.3 L960.5 149.5 L963.1 147.9 L965.9 146.9 L968.4 154.2 L971.6 158.3 L974.1 157.4 L976.3 155.8 L978.8 151.1 L981.1 141.6 L983.3 136.8 L985.2 138.4 L987.4 140.0 L989.6 127.4 L992.1 130.5 L994.6 129.9 L996.8 132.1 L998.4 135.3" class="ln" stroke="#c4122f" stroke-width="2.6" style="stroke-linejoin:miter;stroke-miterlimit:3"/>
</g></g>
<g id="c3">
<rect x="73" y="517.3" width="39.8" height="7.4" fill="#0a80ba"/>
<text x="118" y="526.5" class="lg" textLength="146" lengthAdjust="spacingAndGlyphs">美元 Libor/OIS 利差(BP)</text>
<line x1="287" y1="521.5" x2="327" y2="521.5" stroke="#b8112e" stroke-width="2.1"/>
<text x="331" y="526" class="lg" style="font-size:13px" textLength="22" lengthAdjust="spacingAndGlyphs">OIS</text>
<line x1="375.5" y1="521.5" x2="416" y2="521.5" stroke="#f4c3ca" stroke-width="2.1"/>
<text x="421" y="526" class="lg" style="font-size:13px" textLength="28.5" lengthAdjust="spacingAndGlyphs">Libor</text>
<path d="M56.2 734.1 L57.5 734.0 L58.7 734.3 L60.0 733.2 L61.1 732.9 L62.1 732.7 L63.2 731.6 L64.2 731.8 L65.3 731.7 L66.3 731.6 L67.4 730.1 L68.4 730.2 L69.5 729.5 L70.5 730.6 L71.6 730.1 L72.6 728.6 L73.7 730.3 L74.7 730.3 L75.8 729.8 L76.8 729.7 L77.9 728.9 L78.9 728.6 L80.0 729.4 L81.1 728.4 L82.1 728.4 L83.2 728.4 L84.2 727.8 L85.3 728.5 L86.3 728.3 L87.4 728.9 L88.4 728.2 L89.5 728.4 L90.5 728.0 L91.6 728.2 L92.6 727.7 L93.7 727.3 L94.7 728.5 L95.8 728.4 L96.8 728.0 L97.9 727.6 L98.9 727.0 L100.0 727.0 L101.1 727.2 L102.1 726.9 L103.2 728.3 L104.2 727.7 L105.3 728.9 L106.3 728.4 L107.4 729.8 L108.4 730.0 L109.5 728.8 L110.5 729.6 L111.6 731.2 L112.6 730.7 L113.7 731.9 L114.7 731.2 L115.8 730.9 L116.8 732.2 L118.0 733.1 L119.2 732.7 L120.4 732.9 L121.6 733.9 L122.8 736.1 L123.9 736.7 L125.1 736.6 L126.3 737.9 L127.5 738.2 L128.7 738.6 L129.9 740.5 L131.1 739.9 L132.2 741.4 L133.4 742.0 L134.6 742.3 L135.8 744.1 L137.0 743.4 L138.2 744.7 L139.3 744.2 L140.5 745.1 L141.7 744.4 L142.9 744.1 L144.1 744.9 L145.3 744.2 L146.4 742.5 L147.6 742.8 L148.8 740.8 L150.0 740.3 L151.2 740.4 L152.4 739.2 L153.6 737.4 L154.7 738.2 L155.8 735.3 L156.8 733.8 L157.9 733.1 L159.2 728.4 L160.4 724.4 L161.5 720.0 L162.6 716.1 L163.7 710.7 L164.8 703.7 L166.4 694.9 L167.7 693.7 L168.9 693.1 L170.0 694.3 L171.1 693.8 L172.1 694.2 L173.2 696.3 L174.3 696.7 L175.6 697.4 L176.8 699.6 L178.0 699.2 L179.2 697.9 L180.4 697.6 L181.6 698.3 L182.8 698.9 L183.9 697.8 L185.1 699.4 L186.3 699.5 L187.4 698.7 L188.4 698.1 L189.5 697.2 L190.7 696.3 L191.8 697.1 L193.0 695.1 L194.2 695.1 L195.3 693.8 L196.3 694.3 L197.4 693.3 L198.4 690.7 L199.5 688.4 L200.5 687.2 L201.6 682.4 L202.6 679.0 L203.7 675.9 L204.7 672.2 L205.8 667.6 L206.8 662.8 L207.9 659.7 L208.9 654.2 L210.0 649.7 L211.1 648.5 L212.1 647.3 L213.2 645.0 L214.2 642.0 L215.3 639.2 L216.3 636.4 L217.4 632.0 L218.4 628.7 L219.5 626.0 L220.6 619.8 L221.7 612.9 L222.9 606.7 L224.2 600.2 L225.5 596.5 L226.7 593.5 L228.0 593.0 L229.3 594.2 L230.5 593.4 L231.8 593.4 L233.1 591.1 L234.3 591.7 L235.4 592.2 L236.4 593.4 L237.5 593.4 L238.5 595.6 L239.6 595.0 L240.6 596.9 L241.7 599.4 L242.7 601.8 L243.8 603.6 L244.8 605.6 L245.9 607.9 L246.9 610.2 L248.2 610.8 L249.5 613.0 L250.0 614.0 L251.3 614.4 L252.5 614.1 L253.6 621.8 L254.7 629.1 L255.8 630.7 L256.8 632.9 L257.9 634.5 L258.9 636.8 L260.0 638.7 L261.1 639.7 L262.1 640.0 L263.2 640.0 L264.2 639.2 L265.3 640.8 L266.3 642.1 L267.4 644.6 L268.6 645.3 L269.7 646.0 L270.9 647.7 L272.1 647.3 L273.2 648.6 L274.2 647.5 L275.3 648.7 L276.3 648.6 L277.4 648.3 L278.4 649.3 L279.5 649.5 L280.5 650.2 L281.6 651.3 L282.6 650.6 L283.7 650.7 L284.7 651.7 L285.8 653.3 L286.8 653.4 L287.9 654.2 L288.9 656.4 L290.0 656.9 L291.1 657.4 L292.1 659.1 L293.2 659.1 L294.2 660.6 L295.3 660.7 L296.3 662.1 L297.4 663.7 L298.6 665.5 L299.7 667.0 L300.9 667.7 L302.1 669.6 L303.3 669.9 L304.5 670.4 L305.7 671.8 L306.8 673.2 L308.0 674.8 L309.2 676.2 L310.4 678.2 L311.6 678.5 L312.6 681.5 L313.7 685.2 L314.7 688.0 L315.8 690.0 L316.8 692.5 L317.9 695.0 L319.1 696.7 L320.3 698.4 L321.4 701.3 L322.6 703.5 L323.8 704.1 L325.0 705.0 L326.2 706.5 L327.4 709.6 L328.6 708.9 L329.7 710.9 L330.9 711.4 L332.1 711.8 L333.3 713.8 L334.5 713.6 L335.7 715.0 L336.8 716.8 L338.0 716.6 L339.2 718.7 L340.4 718.3 L341.6 718.7 L342.8 718.9 L343.9 720.2 L345.1 720.2 L346.3 720.9 L347.4 721.8 L348.4 722.9 L349.5 724.0 L350.5 722.4 L351.6 720.5 L352.6 720.0 L353.8 718.6 L355.0 717.5 L356.2 717.6 L357.4 717.2 L358.4 714.7 L359.5 713.3 L360.5 711.8 L361.6 709.3 L362.6 705.8 L363.7 702.8 L364.7 698.9 L365.8 694.0 L366.8 690.5 L367.9 690.2 L368.9 688.2 L370.0 689.2 L371.1 689.3 L372.1 688.8 L373.2 689.9 L374.2 687.1 L375.3 684.4 L376.3 680.3 L377.4 678.5 L378.4 677.0 L379.5 674.7 L380.5 672.9 L381.6 669.9 L382.6 668.2 L383.7 665.3 L384.7 664.1 L385.8 662.2 L386.8 659.2 L387.9 656.7 L388.9 653.2 L390.0 653.9 L391.1 653.5 L392.1 653.0 L393.2 650.1 L394.2 648.4 L395.3 645.5 L396.3 647.6 L397.4 648.5 L398.4 648.7 L399.5 648.5 L400.5 649.5 L401.6 650.0 L402.6 651.1 L403.7 651.3 L404.7 651.3 L405.8 653.2 L406.8 652.4 L407.9 654.2 L409.1 654.3 L410.3 655.8 L411.4 657.8 L412.6 657.8 L413.8 659.0 L415.0 660.8 L416.2 662.4 L417.4 663.8 L418.6 665.1 L419.7 667.1 L420.9 667.9 L422.1 670.3 L423.3 669.9 L424.5 671.3 L425.7 673.1 L426.8 673.8 L427.9 676.7 L428.9 678.7 L430.0 680.6 L431.1 683.8 L432.1 685.9 L433.2 688.1 L434.2 691.4 L435.3 695.4 L436.3 698.6 L437.4 699.5 L438.4 702.7 L439.5 705.1 L440.5 706.9 L441.6 709.6 L442.6 711.6 L444.2 717.5 L445.3 716.7 L446.3 716.2 L447.4 714.4 L448.5 716.6 L449.6 716.2 L450.8 711.6 L452.1 707.9 L453.7 705.0 L454.6 710.5 L455.4 710.5 L455.4 776.5 L56.2 776.5 Z" fill="#0a7fb6"/>
<line x1="56.1" y1="557.25" x2="56.1" y2="777.35" class="ax2"/>
<line x1="51.8" y1="558.1" x2="56.1" y2="558.1" class="ax2"/>
<text x="39.3" y="562.7" class="tf" text-anchor="end">70</text>
<line x1="51.8" y1="589.3" x2="56.1" y2="589.3" class="ax2"/>
<text x="39.3" y="593.9" class="tf" text-anchor="end">60</text>
<line x1="51.8" y1="620.5" x2="56.1" y2="620.5" class="ax2"/>
<text x="39.3" y="625.1" class="tf" text-anchor="end">50</text>
<line x1="51.8" y1="651.7" x2="56.1" y2="651.7" class="ax2"/>
<text x="39.3" y="656.3" class="tf" text-anchor="end">40</text>
<line x1="51.8" y1="682.9" x2="56.1" y2="682.9" class="ax2"/>
<text x="39.3" y="687.5" class="tf" text-anchor="end">30</text>
<line x1="51.8" y1="714.1" x2="56.1" y2="714.1" class="ax2"/>
<text x="39.3" y="718.7" class="tf" text-anchor="end">20</text>
<line x1="51.8" y1="745.3" x2="56.1" y2="745.3" class="ax2"/>
<text x="39.3" y="749.9" class="tf" text-anchor="end">10</text>
<line x1="51.8" y1="776.5" x2="56.1" y2="776.5" class="ax2"/>
<text x="39.3" y="781.1" class="tf" text-anchor="end">0</text>
<line x1="456" y1="557.25" x2="456" y2="777.35" class="ax2"/>
<line x1="456" y1="558.1" x2="460" y2="558.1" class="ax2"/>
<text x="468.6" y="562.7" class="tf">3.0</text>
<line x1="456" y1="612.7" x2="460" y2="612.7" class="ax2"/>
<text x="468.6" y="617.3" class="tf">2.5</text>
<line x1="456" y1="667.3" x2="460" y2="667.3" class="ax2"/>
<text x="468.6" y="671.9" class="tf">2.0</text>
<line x1="456" y1="721.9" x2="460" y2="721.9" class="ax2"/>
<text x="468.6" y="726.5" class="tf">1.5</text>
<line x1="456" y1="776.5" x2="460" y2="776.5" class="ax2"/>
<text x="468.6" y="781.1" class="tf">1.0</text>
<line x1="55.2" y1="776.5" x2="456.8" y2="776.5" class="ax2"/>
<line x1="56.1" y1="776.5" x2="56.1" y2="780.8" class="ax2"/>
<line x1="152.8" y1="776.5" x2="152.8" y2="780.8" class="ax2"/>
<line x1="249.5" y1="776.5" x2="249.5" y2="780.8" class="ax2"/>
<line x1="346.2" y1="776.5" x2="346.2" y2="780.8" class="ax2"/>
<line x1="442.9" y1="776.5" x2="442.9" y2="780.8" class="ax2"/>
<text x="56.1" y="797.8" class="tfx" text-anchor="middle">2017/07</text>
<text x="152.8" y="797.8" class="tfx" text-anchor="middle">2017/12</text>
<text x="249.5" y="797.8" class="tfx" text-anchor="middle">2018/05</text>
<text x="346.2" y="797.8" class="tfx" text-anchor="middle">2018/10</text>
<text x="442.9" y="797.8" class="tfx" text-anchor="middle">2019/03</text>
<path d="M56.2 758.5 L57.6 758.8 L59.0 759.0 L60.4 758.3 L61.8 758.8 L63.2 758.7 L64.5 758.7 L65.8 758.2 L67.1 758.1 L68.4 758.5 L69.7 758.9 L71.1 758.4 L72.4 758.7 L73.7 758.6 L75.0 759.1 L76.3 759.2 L77.6 758.7 L78.9 759.3 L80.3 758.4 L81.6 759.2 L82.9 759.3 L84.2 758.6 L85.5 759.2 L86.8 759.1 L88.2 759.5 L89.5 758.8 L90.8 759.1 L92.1 759.5 L93.4 759.3 L94.7 759.0 L96.1 758.7 L97.4 759.6 L98.7 759.1 L100.0 759.7 L101.3 758.8 L102.6 759.5 L104.2 759.0 L105.8 758.6 L107.4 757.3 L108.9 757.1 L110.5 756.0 L112.1 755.9 L113.7 754.7 L115.3 754.6 L116.8 753.2 L118.4 752.8 L120.0 752.1 L121.6 750.7 L122.9 750.3 L124.2 750.0 L125.5 748.9 L126.8 748.1 L128.2 747.3 L129.5 747.1 L131.1 745.7 L132.6 745.4 L134.2 744.5 L135.8 743.7 L137.4 742.5 L138.9 742.3 L140.5 741.7 L142.1 740.3 L143.7 739.6 L145.3 739.4 L146.8 738.2 L148.4 737.1 L150.0 736.1 L151.6 736.0 L153.2 734.8 L154.7 734.2 L156.3 733.2 L157.9 732.9 L159.5 732.2 L161.1 731.5 L162.6 730.9 L164.2 731.5 L165.8 731.1 L167.4 729.8 L168.9 729.9 L170.5 729.7 L172.1 728.6 L173.7 728.1 L175.3 727.6 L176.8 726.4 L178.4 725.4 L180.0 724.4 L181.6 723.7 L183.2 722.8 L184.7 722.0 L186.3 721.3 L187.9 721.1 L189.5 720.0 L191.1 719.8 L192.6 719.3 L194.2 718.7 L195.8 717.3 L197.4 717.2 L198.9 715.3 L200.5 715.0 L202.1 714.0 L203.7 713.1 L205.3 712.0 L206.8 710.9 L208.4 710.1 L210.0 709.5 L211.6 707.9 L213.2 707.0 L214.7 705.6 L216.3 704.1 L217.9 702.9 L219.5 702.0 L221.1 700.4 L222.6 699.1 L224.2 697.9 L225.8 697.6 L227.4 697.1 L228.9 696.7 L230.5 696.8 L232.1 695.8 L233.7 694.5 L235.3 693.8 L236.8 692.8 L238.4 691.8 L240.0 690.3 L241.6 689.8 L243.2 688.5 L244.7 687.4 L246.3 686.9 L247.9 685.4 L249.5 684.7 L250.0 685.1 L251.6 683.3 L253.2 682.0 L254.7 680.4 L256.3 680.2 L257.9 679.1 L259.5 677.8 L261.1 678.3 L262.6 679.0 L265.2 678.3 L267.4 682.1 L268.9 680.2 L270.5 679.0 L272.1 678.3 L273.7 677.5 L275.3 676.4 L276.8 676.0 L278.4 675.6 L280.0 675.3 L281.6 674.8 L283.2 673.8 L284.7 673.5 L286.3 673.7 L287.9 673.0 L289.5 672.2 L291.1 672.1 L292.6 671.2 L294.2 670.8 L295.8 670.3 L297.4 669.7 L298.9 668.2 L300.5 667.9 L302.1 667.5 L303.7 666.4 L305.3 666.0 L306.8 664.3 L308.4 664.6 L310.0 664.0 L311.6 662.6 L313.2 662.6 L314.7 662.0 L316.3 660.7 L317.9 660.3 L319.5 659.7 L321.1 658.9 L322.6 657.7 L324.2 656.6 L325.8 656.2 L327.4 655.1 L328.9 654.7 L330.5 653.6 L332.1 652.9 L333.7 652.1 L335.3 651.3 L336.8 650.4 L338.4 648.9 L340.0 647.1 L341.6 646.5 L343.2 644.8 L344.7 643.8 L346.3 643.1 L347.9 641.5 L349.5 641.4 L351.1 640.2 L352.6 639.5 L354.2 638.7 L355.8 638.1 L357.4 637.0 L358.9 636.6 L360.5 635.8 L362.1 635.0 L363.7 634.5 L365.3 634.1 L366.8 633.0 L368.4 632.1 L370.0 631.4 L371.6 630.9 L373.2 631.3 L374.7 630.7 L376.3 629.7 L377.9 629.0 L379.5 628.4 L381.1 627.7 L382.6 626.7 L384.2 626.5 L385.8 626.3 L387.4 625.3 L388.9 625.3 L390.5 624.7 L392.1 624.9 L393.7 624.4 L396.2 625.6 L397.8 622.5 L400.0 624.1 L401.6 623.4 L403.2 623.4 L404.7 622.7 L406.3 623.2 L407.9 623.2 L409.5 622.7 L411.1 622.6 L412.6 622.8 L414.2 622.7 L415.8 622.6 L417.4 621.9 L418.9 622.0 L420.5 622.2 L422.1 622.3 L423.7 622.2 L425.3 622.5 L426.8 623.0 L428.4 623.1 L430.0 623.8 L431.6 623.2 L433.2 622.9 L434.7 623.6 L436.3 622.6 L437.9 622.8 L439.5 623.2 L441.1 622.6 L442.6 623.2 L444.2 623.1 L445.8 622.7 L447.4 623.3 L448.9 623.5 L450.4 623.1 L451.8 622.9 L453.2 622.9 L454.6 623.7" class="ln" stroke="#b8112e" stroke-width="2.7"/>
<path d="M56.2 743.4 L57.6 743.7 L59.0 743.5 L60.4 743.5 L61.8 742.6 L63.2 742.5 L64.5 742.3 L65.8 742.4 L67.1 742.8 L68.4 742.2 L69.7 742.5 L71.1 742.1 L72.4 742.2 L73.7 742.2 L75.0 742.6 L76.3 742.3 L77.6 741.7 L78.9 741.9 L80.3 741.7 L81.6 742.4 L82.9 742.3 L84.2 742.2 L85.5 742.2 L86.8 742.0 L88.2 742.2 L89.5 742.0 L90.8 741.4 L92.1 741.9 L93.4 741.5 L94.7 741.7 L96.1 741.5 L97.4 741.4 L98.8 741.3 L100.2 741.4 L101.5 741.3 L102.9 741.1 L104.2 741.8 L105.6 741.5 L106.9 741.5 L108.3 741.0 L109.6 740.6 L111.0 740.6 L112.3 739.8 L113.7 740.1 L115.0 739.4 L116.3 738.7 L117.6 738.3 L118.9 738.2 L120.3 737.5 L121.6 737.3 L122.9 737.1 L124.2 736.5 L125.5 735.9 L126.8 735.9 L128.2 735.3 L129.5 734.9 L130.8 734.3 L132.2 733.9 L133.5 733.0 L134.9 733.0 L136.2 732.7 L137.6 731.5 L138.9 731.3 L140.3 730.7 L141.6 729.0 L142.9 728.3 L144.2 728.2 L145.5 727.4 L146.8 726.5 L148.4 724.8 L150.0 723.9 L151.6 723.1 L153.2 722.0 L154.7 720.3 L156.3 718.1 L157.9 717.2 L159.5 714.1 L161.1 711.8 L162.6 708.6 L164.2 706.3 L165.8 702.7 L167.4 702.1 L168.9 700.8 L170.5 700.8 L172.1 700.3 L173.7 700.0 L175.3 699.3 L176.8 699.3 L178.4 698.5 L180.0 698.1 L181.6 697.6 L183.2 697.3 L184.7 695.9 L186.3 695.3 L187.9 694.3 L189.5 693.9 L191.1 692.9 L192.6 691.9 L194.2 690.5 L195.8 689.5 L197.4 688.1 L198.9 686.4 L200.5 683.7 L202.1 682.1 L203.7 678.6 L205.3 674.8 L206.8 670.8 L208.4 668.0 L210.0 664.3 L211.6 661.5 L213.2 658.3 L214.7 655.6 L216.3 651.6 L217.9 648.0 L219.5 644.2 L221.1 640.7 L222.6 636.3 L224.2 635.0 L225.8 634.0 L227.4 632.3 L228.9 631.3 L230.5 630.9 L232.1 630.6 L233.7 629.6 L235.3 628.7 L236.8 628.6 L238.4 628.3 L240.0 627.2 L241.6 627.4 L243.2 627.0 L244.7 626.7 L246.3 626.6 L247.9 626.5 L249.5 626.7 L250.0 626.4 L251.6 627.8 L253.2 628.5 L254.7 630.3 L256.3 630.6 L257.9 630.6 L259.5 631.9 L261.1 631.5 L262.6 632.0 L264.2 632.3 L265.8 632.4 L267.4 632.2 L268.9 632.3 L270.5 631.9 L272.1 632.6 L273.7 631.5 L275.3 631.9 L276.8 631.0 L278.4 630.8 L279.8 630.7 L281.1 630.3 L282.5 630.3 L283.8 630.4 L285.2 630.4 L286.5 630.8 L287.9 630.8 L289.2 629.8 L290.6 630.2 L292.0 629.7 L293.3 630.3 L294.7 629.7 L296.0 630.2 L297.4 629.7 L298.7 629.3 L300.1 629.1 L301.4 629.3 L302.8 629.9 L304.1 629.1 L305.5 629.4 L306.8 629.2 L308.4 629.4 L310.0 630.0 L311.6 629.6 L313.2 630.2 L314.7 630.9 L316.3 631.9 L317.9 632.2 L319.5 632.7 L321.1 632.3 L322.6 632.5 L324.2 632.6 L325.8 632.7 L327.4 632.6 L328.9 631.7 L330.5 631.5 L332.1 631.6 L333.7 631.6 L335.3 631.0 L336.8 630.4 L338.4 629.8 L340.0 627.9 L341.6 626.4 L343.2 625.3 L344.7 624.3 L346.3 623.9 L347.9 622.2 L349.5 621.8 L351.1 620.9 L352.6 620.0 L354.2 618.7 L355.8 617.3 L357.4 615.9 L358.9 614.5 L360.5 612.8 L362.1 610.3 L363.7 608.7 L365.3 605.9 L366.8 604.2 L368.4 603.0 L370.0 600.6 L371.6 599.1 L373.2 598.4 L374.7 596.8 L376.3 594.8 L377.9 593.2 L379.5 591.9 L381.1 590.1 L382.6 589.0 L384.2 586.5 L385.8 585.7 L387.4 584.4 L388.9 582.5 L390.5 582.1 L392.1 580.8 L393.7 579.5 L395.3 578.7 L396.8 578.4 L398.4 578.3 L400.0 578.1 L401.6 578.0 L403.2 578.4 L404.7 579.0 L406.3 579.3 L407.9 580.2 L409.5 580.0 L411.1 581.1 L412.6 580.7 L414.2 581.4 L415.8 582.6 L417.4 583.1 L418.9 584.2 L420.5 584.3 L422.1 584.9 L423.7 586.0 L425.3 586.2 L426.8 587.6 L428.4 588.6 L430.0 589.4 L431.6 591.0 L433.2 591.3 L434.7 593.4 L436.3 594.0 L437.9 596.0 L439.5 596.7 L441.1 598.0 L442.4 599.2 L443.8 600.3 L445.2 600.4 L446.6 600.7 L448.1 601.0 L449.6 600.7 L450.9 600.1 L452.3 598.8 L453.7 598.4 L455.9 599.6" class="ln" stroke="#f4c6cd" stroke-width="2.6"/>
</g>
<g id="c4">
<line x1="593" y1="521.5" x2="634" y2="521.5" stroke="#c4122f" stroke-width="2.1"/>
<text x="639.8" y="526.5" class="lg" textLength="27" lengthAdjust="spacingAndGlyphs">中国</text>
<line x1="682.5" y1="521.5" x2="723" y2="521.5" stroke="#1b89b6" stroke-width="2.1"/>
<text x="728.5" y="526.5" class="lg" textLength="27.8" lengthAdjust="spacingAndGlyphs">日本</text>
<line x1="771.5" y1="521.5" x2="812" y2="521.5" stroke="#000" stroke-width="2.1"/>
<text x="817.3" y="526.5" class="lg" textLength="195.7" lengthAdjust="spacingAndGlyphs">外国投资者持有美国国债(右轴)</text>
<line x1="614.9" y1="557.45" x2="614.9" y2="778.55" class="ax2"/>
<line x1="610.6" y1="558.3" x2="614.9" y2="558.3" class="ax2"/>
<text x="598.1" y="562.9" class="tf" text-anchor="end">1400</text>
<line x1="610.6" y1="589.643" x2="614.9" y2="589.643" class="ax2"/>
<text x="598.1" y="594.243" class="tf" text-anchor="end">1200</text>
<line x1="610.6" y1="620.986" x2="614.9" y2="620.986" class="ax2"/>
<text x="598.1" y="625.586" class="tf" text-anchor="end">1000</text>
<line x1="610.6" y1="652.329" x2="614.9" y2="652.329" class="ax2"/>
<text x="598.1" y="656.929" class="tf" text-anchor="end">800</text>
<line x1="610.6" y1="683.671" x2="614.9" y2="683.671" class="ax2"/>
<text x="598.1" y="688.271" class="tf" text-anchor="end">600</text>
<line x1="610.6" y1="715.014" x2="614.9" y2="715.014" class="ax2"/>
<text x="598.1" y="719.614" class="tf" text-anchor="end">400</text>
<line x1="610.6" y1="746.357" x2="614.9" y2="746.357" class="ax2"/>
<text x="598.1" y="750.957" class="tf" text-anchor="end">200</text>
<line x1="610.6" y1="777.7" x2="614.9" y2="777.7" class="ax2"/>
<text x="598.1" y="782.3" class="tf" text-anchor="end">0</text>
<line x1="985.7" y1="557.45" x2="985.7" y2="778.55" class="ax2"/>
<line x1="985.7" y1="558.3" x2="989.7" y2="558.3" class="ax2"/>
<text x="998.3" y="562.9" class="tf">7000</text>
<line x1="985.7" y1="589.643" x2="989.7" y2="589.643" class="ax2"/>
<text x="998.3" y="594.243" class="tf">6000</text>
<line x1="985.7" y1="620.986" x2="989.7" y2="620.986" class="ax2"/>
<text x="998.3" y="625.586" class="tf">5000</text>
<line x1="985.7" y1="652.329" x2="989.7" y2="652.329" class="ax2"/>
<text x="998.3" y="656.929" class="tf">4000</text>
<line x1="985.7" y1="683.671" x2="989.7" y2="683.671" class="ax2"/>
<text x="998.3" y="688.271" class="tf">3000</text>
<line x1="985.7" y1="715.014" x2="989.7" y2="715.014" class="ax2"/>
<text x="998.3" y="719.614" class="tf">2000</text>
<line x1="985.7" y1="746.357" x2="989.7" y2="746.357" class="ax2"/>
<text x="998.3" y="750.957" class="tf">1000</text>
<line x1="985.7" y1="777.7" x2="989.7" y2="777.7" class="ax2"/>
<text x="998.3" y="782.3" class="tf">0</text>
<line x1="614" y1="777.7" x2="986.8" y2="777.7" class="ax2"/>
<line x1="614.9" y1="777.7" x2="614.9" y2="782" class="ax2"/>
<line x1="689.1" y1="777.7" x2="689.1" y2="782" class="ax2"/>
<line x1="763.3" y1="777.7" x2="763.3" y2="782" class="ax2"/>
<line x1="837.5" y1="777.7" x2="837.5" y2="782" class="ax2"/>
<line x1="911.7" y1="777.7" x2="911.7" y2="782" class="ax2"/>
<line x1="985.9" y1="777.7" x2="985.9" y2="782" class="ax2"/>
<text x="614.9" y="798.8" class="tfx" text-anchor="middle">2000/01</text>
<text x="689.1" y="798.8" class="tfx" text-anchor="middle">2003/11</text>
<text x="763.3" y="798.8" class="tfx" text-anchor="middle">2007/09</text>
<text x="837.5" y="798.8" class="tfx" text-anchor="middle">2011/07</text>
<text x="911.7" y="798.8" class="tfx" text-anchor="middle">2015/05</text>
<path d="M618.9 765.5 L620.5 766.3 L622.1 766.5 L623.7 766.7 L625.3 766.9 L626.8 767.8 L628.4 768.2 L630.0 768.0 L631.6 768.0 L633.2 767.8 L634.7 767.2 L636.3 767.1 L637.9 766.8 L639.5 766.1 L641.1 766.3 L642.6 765.6 L644.2 765.6 L645.8 765.4 L647.4 766.2 L648.9 765.9 L650.5 765.9 L652.1 765.6 L653.7 764.9 L655.3 764.9 L656.8 764.8 L658.4 764.1 L660.0 764.4 L661.6 763.5 L663.2 762.5 L664.7 762.1 L666.3 760.8 L667.9 760.9 L669.5 760.0 L671.1 759.5 L672.6 758.6 L674.2 758.0 L675.8 757.0 L677.4 756.3 L678.9 756.3 L680.5 755.2 L682.1 754.8 L683.7 753.6 L685.3 754.3 L686.8 754.3 L688.4 754.3 L690.0 753.8 L691.6 753.1 L693.2 752.7 L694.7 751.9 L696.3 751.9 L697.9 751.8 L699.5 749.8 L701.1 748.8 L702.6 747.7 L704.2 746.2 L705.8 745.2 L707.4 744.5 L708.9 743.7 L710.5 743.4 L712.1 742.4 L713.7 741.6 L715.3 741.1 L716.8 740.4 L718.4 739.3 L720.6 731.0 L722.7 730.3 L724.7 729.5 L726.3 729.4 L727.9 728.6 L729.5 728.6 L731.1 728.4 L732.6 728.2 L734.2 727.6 L736.3 726.8 L738.3 726.2 L740.5 719.4 L742.1 717.8 L743.7 716.9 L745.3 716.2 L746.8 715.5 L748.4 714.9 L750.0 714.5 L751.6 713.4 L753.2 712.0 L755.2 713.0 L757.3 713.8 L759.5 703.0 L761.1 703.8 L762.6 704.1 L764.2 704.9 L765.8 705.2 L767.4 703.4 L768.9 702.2 L770.5 700.4 L772.1 699.5 L773.7 698.5 L775.3 698.2 L777.3 696.0 L779.4 694.4 L781.6 687.1 L783.8 679.2 L786.3 666.3 L787.9 664.2 L789.5 661.2 L790.0 661.4 L792.5 659.2 L794.7 655.2 L796.3 640.8 L798.5 630.6 L801.1 629.9 L802.6 630.8 L804.2 631.3 L806.4 634.3 L808.9 637.9 L811.5 639.3 L813.7 637.6 L815.3 641.1 L816.2 619.1 L817.2 602.8 L820.0 598.2 L822.5 594.0 L825.4 594.6 L827.9 596.5 L829.5 597.1 L831.1 597.7 L833.6 596.9 L834.8 590.8 L836.1 573.0 L838.0 571.0 L839.9 576.1 L842.1 579.7 L844.6 580.0 L845.9 595.4 L848.4 597.8 L850.0 596.5 L851.6 596.3 L853.2 597.1 L854.7 598.1 L856.3 597.4 L857.9 596.6 L859.5 596.0 L861.1 595.6 L863.6 592.4 L865.8 585.5 L867.4 582.3 L868.9 579.1 L870.5 576.4 L872.1 574.1 L874.6 575.1 L876.8 578.2 L879.4 574.2 L880.9 572.2 L882.5 571.0 L884.7 577.1 L886.3 577.6 L887.9 577.7 L889.5 577.9 L891.1 578.3 L892.6 578.7 L894.2 579.3 L895.8 579.5 L897.8 578.8 L899.9 579.0 L901.5 580.6 L903.1 581.9 L904.6 582.4 L906.2 582.2 L907.8 581.5 L909.4 580.1 L910.9 579.7 L912.5 578.3 L914.1 578.4 L915.7 577.7 L917.3 578.8 L918.8 579.3 L920.4 578.8 L922.0 578.8 L923.6 580.1 L925.2 582.0 L926.7 582.0 L928.3 582.6 L929.9 581.9 L931.5 581.4 L933.1 582.3 L934.6 584.3 L936.8 590.5 L939.1 601.8 L940.9 612.4 L943.2 612.5 L945.7 611.2 L947.9 606.3 L950.4 604.8 L952.6 596.5 L954.8 590.1 L957.4 591.9 L958.9 592.1 L960.5 592.9 L962.1 592.5 L963.7 590.8 L965.3 591.3 L966.8 591.8 L968.4 591.6 L970.0 590.7 L971.6 592.1 L973.2 593.8 L974.7 594.9 L976.3 597.0 L977.9 598.7 L979.5 600.6 L981.1 601.0 L982.6 601.5" class="ln" stroke="#c4122f" stroke-width="2.6"/>
<path d="M618.9 729.9 L620.5 727.9 L622.1 726.5 L623.7 727.8 L625.3 727.3 L626.8 727.5 L628.4 727.8 L630.0 727.3 L631.6 727.7 L633.2 727.5 L634.7 728.8 L636.3 728.7 L637.9 729.2 L639.5 729.7 L641.1 729.7 L642.6 730.6 L644.2 731.2 L645.8 731.2 L647.4 730.6 L648.9 728.9 L650.5 728.2 L652.1 727.6 L653.7 729.0 L655.3 729.6 L657.3 729.4 L659.4 728.8 L660.9 725.5 L662.5 721.6 L664.4 720.7 L666.3 719.5 L667.9 718.8 L669.5 719.2 L671.1 718.2 L673.1 717.1 L675.2 715.7 L676.7 714.6 L678.3 713.3 L680.5 707.7 L682.1 706.0 L683.7 703.9 L685.3 700.6 L686.8 697.9 L688.4 694.3 L690.0 692.0 L691.6 687.6 L693.2 683.7 L694.7 679.6 L696.3 676.0 L697.9 674.6 L699.5 672.4 L701.1 671.2 L702.6 670.2 L704.2 667.1 L705.8 668.1 L707.4 668.9 L708.9 668.3 L710.5 668.1 L712.1 669.0 L713.7 669.7 L715.3 670.3 L716.8 669.3 L718.4 671.0 L720.0 672.5 L721.6 672.3 L723.2 671.5 L724.7 671.9 L726.3 672.5 L727.9 671.9 L729.5 672.4 L731.1 672.8 L732.6 674.3 L734.2 675.6 L735.8 677.2 L737.4 678.0 L738.9 678.6 L740.5 679.6 L742.1 681.2 L743.7 681.0 L745.3 680.5 L746.8 679.6 L748.4 680.5 L750.0 680.3 L751.6 681.1 L753.2 680.9 L754.7 680.3 L756.3 681.0 L757.9 682.5 L759.5 681.3 L761.1 680.6 L762.6 682.5 L764.2 684.8 L765.8 685.3 L767.4 685.9 L768.9 685.5 L770.5 684.8 L772.1 685.1 L773.7 686.2 L775.3 686.7 L776.8 687.0 L778.4 679.4 L780.6 676.9 L783.2 679.6 L784.7 679.1 L786.3 678.2 L787.9 678.3 L789.5 679.1 L790.0 674.1 L791.6 671.6 L793.2 669.0 L794.7 668.4 L796.3 666.2 L797.9 663.6 L799.5 661.3 L801.1 660.2 L802.6 659.7 L804.2 658.1 L805.8 657.3 L807.4 656.8 L808.9 656.8 L810.5 655.0 L812.1 653.5 L813.7 653.1 L815.3 652.5 L816.8 650.1 L818.4 646.9 L820.0 644.9 L821.6 643.0 L823.2 640.6 L824.7 639.2 L826.3 638.7 L827.9 637.8 L829.5 637.4 L831.1 636.5 L832.6 635.2 L834.2 633.9 L836.4 639.2 L838.3 637.7 L840.5 626.4 L843.1 616.0 L845.3 608.5 L846.8 608.3 L848.4 607.1 L850.0 605.4 L851.6 604.7 L853.2 603.3 L854.7 601.1 L856.3 600.8 L857.9 599.5 L859.5 600.0 L861.1 598.9 L862.6 600.6 L864.2 602.1 L865.8 603.5 L867.4 604.5 L868.9 604.0 L870.5 602.8 L872.7 604.6 L874.6 607.6 L876.8 601.9 L879.4 594.8 L880.9 594.0 L882.5 593.2 L884.1 591.1 L885.7 590.2 L887.3 589.0 L888.8 587.4 L890.4 586.9 L892.0 587.1 L893.6 586.3 L895.2 585.5 L896.7 585.1 L898.3 584.5 L899.9 584.9 L901.5 584.2 L903.1 584.1 L904.6 583.9 L906.2 584.7 L907.8 584.5 L909.4 586.0 L910.9 587.7 L912.5 588.4 L914.1 588.8 L915.7 590.7 L917.3 591.8 L918.8 594.5 L920.4 597.0 L922.0 599.4 L923.6 601.3 L925.2 600.8 L926.7 600.5 L928.3 599.3 L929.9 599.4 L931.5 598.9 L933.1 597.9 L934.6 597.3 L936.2 597.1 L938.4 601.1 L940.9 606.1 L942.5 605.4 L944.1 605.0 L945.7 603.5 L947.3 601.2 L948.8 603.5 L950.4 606.0 L952.6 603.2 L954.2 604.9 L955.8 606.1 L957.4 606.7 L958.9 608.0 L960.5 609.7 L962.1 610.9 L963.7 612.0 L965.3 612.4 L966.8 613.8 L968.4 615.6 L970.0 615.0 L971.6 614.4 L973.2 614.8 L974.7 615.6 L976.3 616.3 L977.9 616.9 L980.4 615.6 L982.6 609.3" class="ln" stroke="#1d8bb6" stroke-width="2.6"/>
<path d="M618.9 743.9 L620.5 744.3 L622.1 744.6 L623.7 744.4 L625.3 745.1 L626.8 745.4 L628.4 745.9 L630.0 745.8 L631.6 745.9 L633.2 746.2 L634.7 746.3 L636.3 746.6 L637.9 746.6 L639.5 746.8 L641.1 747.4 L642.6 747.4 L644.2 747.4 L645.8 747.4 L647.4 747.1 L648.9 746.3 L650.5 746.1 L652.1 745.3 L653.7 745.4 L655.3 745.3 L656.8 745.5 L658.4 744.9 L660.0 744.8 L661.6 743.3 L663.2 742.1 L664.7 741.7 L666.3 740.9 L667.9 740.3 L669.5 740.0 L671.1 739.6 L672.6 739.0 L674.2 738.6 L675.8 738.4 L677.4 737.1 L678.9 736.0 L680.5 735.1 L682.1 734.3 L683.7 732.9 L685.3 731.8 L686.8 731.4 L688.4 731.1 L690.0 730.9 L691.6 729.8 L693.2 728.7 L694.7 727.2 L696.3 725.8 L697.9 724.4 L699.5 723.0 L701.1 722.8 L702.6 722.1 L704.2 721.4 L705.8 720.8 L707.4 720.7 L708.9 720.1 L710.5 719.5 L712.1 718.4 L713.7 717.8 L715.3 717.2 L716.8 716.2 L718.4 715.5 L720.6 718.2 L722.7 717.9 L724.7 716.6 L726.3 715.7 L727.9 714.5 L729.5 713.9 L731.1 713.4 L732.6 713.1 L734.2 712.6 L735.8 713.0 L737.4 713.1 L739.6 715.6 L741.6 714.3 L743.7 713.0 L745.3 712.7 L746.8 711.7 L748.4 711.0 L750.0 710.4 L751.6 710.1 L753.2 709.4 L754.7 709.4 L756.3 709.0 L757.9 708.1 L759.5 707.4 L761.1 707.1 L762.6 706.2 L764.2 705.2 L765.8 704.1 L767.4 702.5 L768.9 701.5 L770.5 700.8 L772.1 699.4 L773.7 698.1 L775.3 697.2 L776.8 695.9 L778.4 694.0 L780.0 692.0 L781.6 689.9 L783.2 687.0 L784.7 683.9 L786.3 682.7 L787.9 681.4 L789.5 680.4 L790.0 678.9 L791.6 676.0 L793.2 672.7 L794.7 671.1 L796.3 669.7 L797.9 667.7 L799.5 666.4 L801.1 664.6 L802.6 663.2 L804.2 661.8 L805.8 659.8 L807.4 659.5 L808.9 658.2 L810.5 656.9 L812.1 655.3 L813.7 653.5 L815.3 652.1 L816.8 650.5 L818.4 648.9 L820.0 646.4 L821.6 643.3 L823.2 641.9 L824.7 640.6 L826.3 639.3 L827.9 638.7 L829.5 637.2 L831.1 636.4 L832.6 635.3 L834.2 634.7 L835.8 630.9 L838.3 629.7 L840.5 624.8 L842.1 623.0 L843.7 621.6 L845.3 619.4 L846.8 617.4 L848.4 616.3 L850.0 615.0 L851.6 613.8 L853.2 611.8 L854.7 610.6 L856.3 609.1 L857.9 607.3 L859.5 605.9 L861.1 604.5 L862.6 603.2 L864.2 602.2 L865.8 601.5 L867.4 599.9 L868.9 598.3 L871.5 598.1 L873.7 600.5 L875.9 601.5 L878.4 600.0 L880.0 598.6 L881.6 596.8 L883.2 596.1 L884.7 595.1 L886.3 593.6 L887.9 591.9 L889.5 590.8 L891.1 589.8 L892.6 589.2 L894.2 588.0 L895.8 587.1 L897.4 586.7 L898.9 586.0 L900.5 585.8 L902.1 584.2 L903.7 582.8 L905.3 582.2 L906.8 582.2 L908.4 582.6 L910.0 583.9 L911.6 584.3 L913.2 584.6 L914.7 585.5 L916.3 585.7 L917.9 586.2 L919.5 586.5 L921.1 585.7 L922.6 584.0 L924.2 583.1 L925.8 581.6 L927.4 581.5 L928.9 580.9 L930.5 580.5 L932.1 580.7 L934.6 580.5 L936.8 584.0 L939.4 587.7 L941.6 590.8 L944.1 588.8 L945.7 587.9 L947.3 587.4 L948.8 586.4 L950.4 585.9 L952.0 583.9 L953.6 582.1 L955.2 580.8 L956.7 579.6 L958.9 579.0 L960.5 580.0 L962.1 581.1 L963.7 581.4 L965.3 581.8 L966.8 582.1 L968.4 582.8 L970.0 581.7 L971.6 581.0 L973.2 580.6 L974.7 580.5 L976.3 582.7 L977.9 582.5 L979.5 582.0 L981.1 580.7 L982.6 579.6" class="ln" stroke="#000" stroke-width="2.9"/>
</g>
</svg></body></html>
